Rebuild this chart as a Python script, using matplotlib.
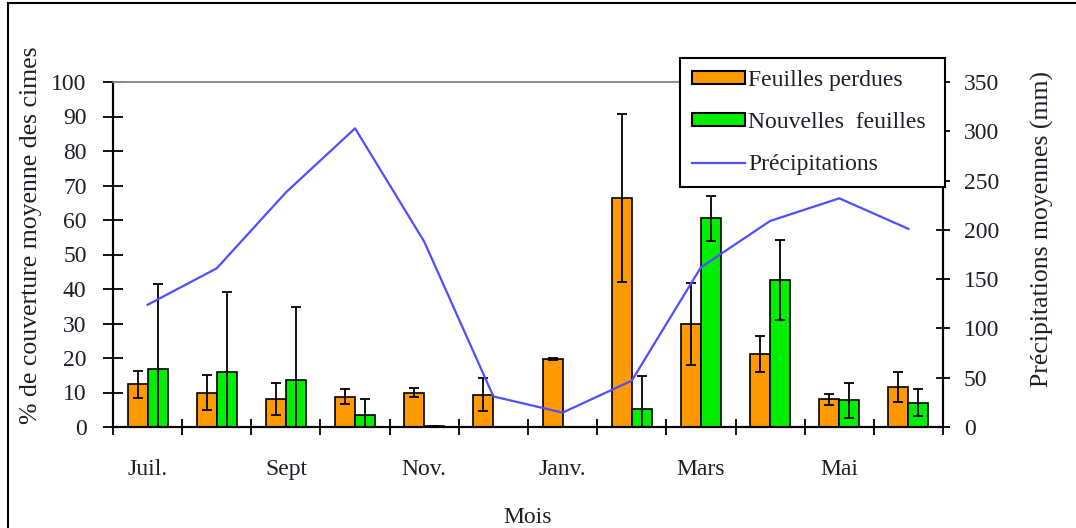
import numpy as np
import matplotlib
matplotlib.use("Agg")
import matplotlib.pyplot as plt
from matplotlib.patches import Rectangle, Patch
from matplotlib.lines import Line2D

plt.rcParams['font.family'] = ['Liberation Serif', 'DejaVu Serif']

months = ["Juil.", "Août", "Sept", "Oct.", "Nov.", "Déc.",
          "Janv.", "Févr.", "Mars", "Avr.", "Mai", "Juin"]
shown_labels = ["Juil.", "Sept", "Nov.", "Janv.", "Mars", "Mai"]

# % couverture des cimes
perdues = [12.4, 10.0, 8.2, 8.8, 10.0, 9.4, 19.8, 66.3, 29.8, 21.1, 8.0, 11.6]
perdues_err = [3.9, 5.2, 4.6, 2.2, 1.3, 4.9, 0.3, 24.3, 11.9, 5.3, 1.5, 4.4]
nouvelles = [16.9, 15.8, 13.5, 3.6, 0.3, np.nan, np.nan, 5.3, 60.5, 42.6, 7.7, 7.1]
nouvelles_err = [24.5, 23.4, 21.4, 4.6, 0.0, np.nan, np.nan, 9.4, 6.5, 11.6, 5.1, 3.9]

# précipitations moyennes (mm)
precip = [124, 161, 238, 303, 188, 31, 14.6, 47, 162, 209, 232, 201]

x = np.arange(len(months))
w = 0.29
txt = '#1e1e2a'

fig = plt.figure(figsize=(10.76, 5.28), dpi=100)
ax = fig.add_axes([113/1076, 1 - 427/528, (943 - 113)/1076, (427 - 82)/528])
ax2 = ax.twinx()

ax.bar(x - w/2, perdues, w, color='#ff9900', edgecolor='black', linewidth=1.2, zorder=2)
ax.bar(x + w/2, nouvelles, w, color='#00ee00', edgecolor='black', linewidth=1.2, zorder=2)
ax.errorbar(x - w/2, perdues, yerr=perdues_err, fmt='none', ecolor='black',
            elinewidth=1.3, capsize=3.6, capthick=1.3, zorder=3)
ax.errorbar(x + w/2, nouvelles, yerr=nouvelles_err, fmt='none', ecolor='black',
            elinewidth=1.3, capsize=3.6, capthick=1.3, zorder=3)

ax2.plot(x, precip, color='#4f4fff', linewidth=1.6)

ax.set_xlim(-0.5, len(months) - 0.5)
ax.set_ylim(0, 100)
ax2.set_ylim(0, 350)

ax.set_yticks(np.arange(0, 101, 10))
ax2.set_yticks(np.arange(0, 351, 50))
ax.set_xticks(np.arange(-0.5, len(months)), [''] * (len(months) + 1))
ax.set_xticks(x[::2], shown_labels, minor=True)

ax.tick_params(axis='x', which='major', direction='inout', length=12, width=1.3)
ax.tick_params(axis='x', which='minor', length=0, pad=23, labelsize=17, labelcolor=txt)
ax.tick_params(axis='y', direction='inout', length=14, width=1.3, pad=12,
               labelsize=17, labelcolor=txt)
ax2.tick_params(axis='y', direction='inout', length=10, width=1.3, pad=10,
                labelsize=17, labelcolor=txt)

for a in (ax, ax2):
    a.spines['top'].set_color('#8c8c8c')
    a.spines['top'].set_linewidth(1.2)
    for s in ('left', 'right', 'bottom'):
        a.spines[s].set_linewidth(1.5)

ax.set_xlabel('Mois', fontsize=17, color=txt)
ax.xaxis.set_label_coords(0.5, -0.232)
ax.set_ylabel('% de couverture moyenne des cimes', fontsize=18.5, color=txt)
ax.yaxis.set_label_coords(-0.086, 0.555)
ax2.set_ylabel('Précipitations moyennes (mm)', fontsize=18.5, color=txt)
ax2.yaxis.set_label_coords(1.106, 0.575)

handles = [Patch(facecolor='#ff9900', edgecolor='black', linewidth=1.5),
           Patch(facecolor='#00ee00', edgecolor='black', linewidth=1.5),
           Line2D([], [], color='#4f4fff', linewidth=1.6)]
leg = fig.legend(handles, ['Feuilles perdues', 'Nouvelles  feuilles', 'Précipitations'],
                 loc='upper left', bbox_to_anchor=(680/1076, 1 - 58/528, 265/1076, 0),
                 mode='expand',
                 fontsize=17, frameon=True, fancybox=False, framealpha=1,
                 edgecolor='black', handlelength=2.25, handleheight=0.45,
                 handletextpad=0.15, labelspacing=0.9, borderpad=0.5,
                 borderaxespad=0)
leg.get_frame().set_linewidth(1.5)
for t in leg.get_texts():
    t.set_color(txt)

# cadre de la figure
fig.patches.append(Rectangle((8/1076, -0.1), 1.2, 1.1 - 3/528, transform=fig.transFigure,
                             fill=False, edgecolor='black', linewidth=1.5, clip_on=False))

fig.savefig('out.png', dpi=100)
